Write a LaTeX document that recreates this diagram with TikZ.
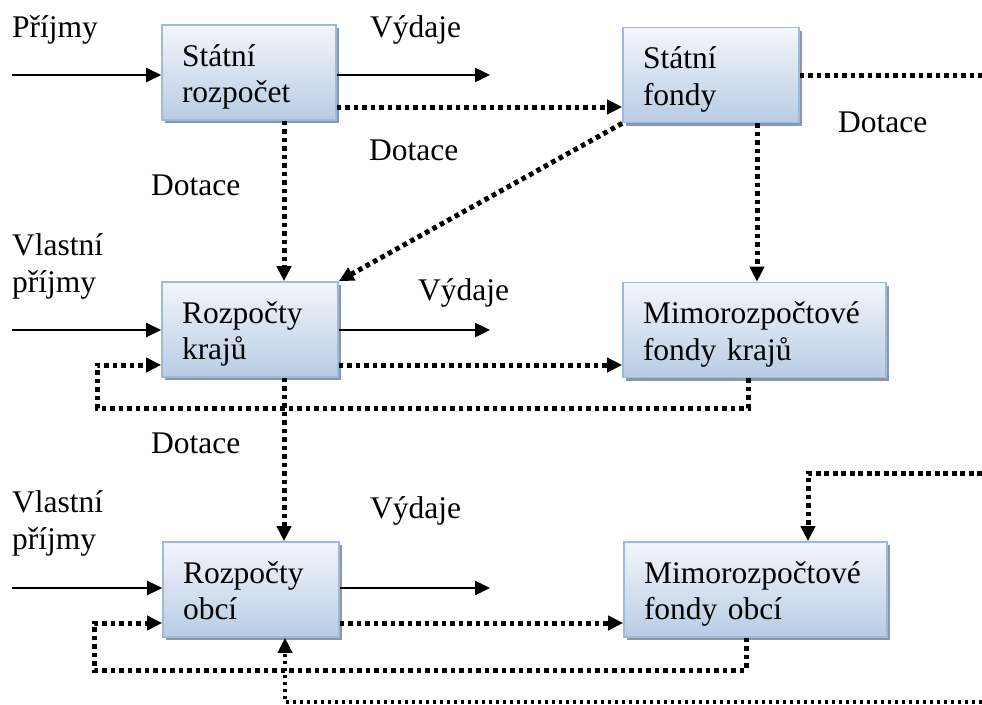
\documentclass[tikz,border=0pt]{standalone}
\usepackage{fontspec}
\setmainfont{Liberation Serif}
\usetikzlibrary{arrows.meta,shadows}
\definecolor{boxtop}{HTML}{F3F6FB}
\definecolor{boxbot}{HTML}{B8CCE4}
\definecolor{boxedge}{HTML}{9DB9DB}
\definecolor{shadowgray}{HTML}{8D97A4}
\begin{document}
\begin{tikzpicture}[x=1pt,y=-1pt,font=\fontsize{31.5pt}{36.5pt}\selectfont,
  box/.style={draw=boxedge,line width=1.6pt,top color=boxtop,bottom color=boxbot,
    drop shadow={shadow xshift=3pt,shadow yshift=-3pt,fill=shadowgray,opacity=1},
    align=left,inner xsep=20pt,inner ysep=0pt,text width=#1,minimum height=95pt,
    execute at begin node=\rule{0pt}{32pt},execute at end node=\rule[-8pt]{0pt}{8pt}},
  lbl/.style={anchor=base west,inner sep=0pt},
  flow/.style={line width=2.5pt,-{Triangle[length=15pt,width=14pt]}},
  dots/.style={line width=5pt,dash pattern=on 4.6pt off 3.9pt},
  dotsarr/.style={dots,-{Triangle[length=15pt,width=14pt]}},
  fine/.style={line width=3.5pt,dash pattern=on 3.5pt off 3.5pt,-{Triangle[length=15pt,width=14pt]}}]
\useasboundingbox (0,0) rectangle (982,704);
\node[box=134pt] (sr) at (249,72.5) {Státní\\rozpočet};
\node[box=136pt] (sf) at (711,75) {Státní\\fondy};
\node[box=136pt] (rk) at (250,329.5) {Rozpočty\\krajů};
\node[box=223pt] (mk) at (754.5,330) {Mimorozpočtové\\fondy krajů};
\node[box=136pt] (ro) at (251,589.5) {Rozpočty\\obcí};
\node[box=223pt] (mo) at (755.5,589.5) {Mimorozpočtové\\fondy obcí};
\node[lbl] (prijmy) at (12,37) {Příjmy};
\node[lbl] (vydsr) at (370,37) {Výdaje};
\node[lbl] (dotsf) at (838,132) {Dotace};
\node[lbl] (dotdiag) at (369,160) {Dotace};
\node[lbl] (dotsr) at (151,195) {Dotace};
\node[lbl,align=left] (vlrk) at (12,292) {Vlastní\\příjmy};
\node[lbl] (vydrk) at (418,300) {Výdaje};
\node[lbl] (dotrk) at (151,453) {Dotace};
\node[lbl,align=left] (vlro) at (12,549) {Vlastní\\příjmy};
\node[lbl] (vydro) at (370,518) {Výdaje};
\coordinate (srin) at (12,75);
\coordinate (srout) at (490,75);
\coordinate (sfout) at (982,75);
\coordinate (rkin) at (12,330);
\coordinate (rkout) at (490,330);
\coordinate (rkloop) at (97,408);
\coordinate (roin) at (12,588);
\coordinate (roout) at (490,588);
\coordinate (roloop) at (94,670);
\coordinate (moin) at (982,473);
\coordinate (roback) at (982,702);
\draw[flow] (srin) -- (srin -| sr.west);
\draw[flow] (srout -| sr.east) -- (srout);
\draw[dotsarr] (sr.east |- 0,107) -- (sf.west |- 0,107);
\draw[dots] (sf.east |- sfout) -- (sfout);
\draw[dotsarr] (sr.south -| 284,0) -- (rk.north -| 284,0);
\draw[dotsarr] (sf.south west) -- (rk.north east);
\draw[dotsarr] (sf.south -| 757,0) -- (mk.north -| 757,0);
\draw[flow] (rkin) -- (rkin -| rk.west);
\draw[flow] (rkout -| rk.east) -- (rkout);
\draw[dotsarr] (rk.east |- 0,365) -- (mk.west |- 0,365);
\draw[dotsarr] (mk.south -| 748,0) |- (rkloop) |- (rk.west |- 0,365);
\draw[dotsarr] (rk.south -| 284,0) -- (ro.north -| 284,0);
\draw[flow] (roin) -- (roin -| ro.west);
\draw[flow] (roout -| ro.east) -- (roout);
\draw[dotsarr] (ro.east |- 0,623) -- (mo.west |- 0,623);
\draw[dotsarr] (mo.south -| 746,0) |- (roloop) |- (ro.west |- 0,623);
\draw[dotsarr] (moin) -| (mo.north -| 808,0);
\draw[fine] (roback) -| (ro.south -| 285,0);
\end{tikzpicture}
\end{document}
